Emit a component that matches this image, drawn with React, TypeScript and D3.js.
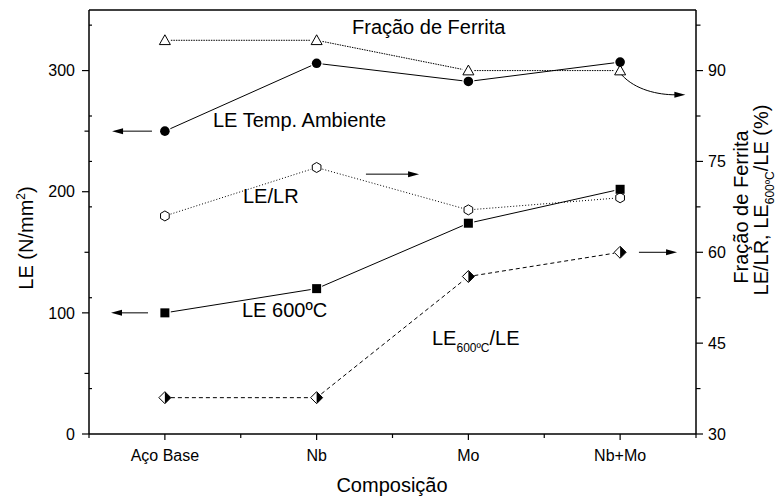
import React from 'react';
import * as d3 from 'd3';

// ---- data ----
const categories = ['Aço Base', 'Nb', 'Mo', 'Nb+Mo'];
const leTempAmbiente = [250, 306, 291, 307]; // N/mm2, left axis
const le600 = [100, 120, 174, 202]; // N/mm2, left axis
const fracaoFerrita = [95, 95, 90, 90]; // %, right axis
const leLr = [66, 74, 67, 69]; // %, right axis
const le600Le = [36, 36, 56, 60]; // %, right axis
const leftTicks = [0, 100, 200, 300];
const leftMinor = [50, 150, 250];
const rightTicks = [30, 45, 60, 75, 90];
const rightMinor = [37.5, 52.5, 67.5, 82.5, 97.5];

const W = 778;
const H = 498;
const L = 89, R = 696, T = 10, B = 434;
const FONT = "'Liberation Sans', Arial, Helvetica, sans-serif";

const x = d3.scaleLinear().domain([0.5, 4.5]).range([L, R]);
const yL = d3.scaleLinear().domain([0, 350]).range([B, T]);
const yR = d3.scaleLinear().domain([30, 100]).range([B, T]);

type P = [number, number];

function Segments({ pts, dash, gap = 6 }: { pts: P[]; dash?: string; gap?: number }) {
  const line = d3.line();
  const segs: string[] = [];
  for (let i = 0; i < pts.length - 1; i++) {
    const [x1, y1] = pts[i];
    const [x2, y2] = pts[i + 1];
    const len = Math.hypot(x2 - x1, y2 - y1);
    const ux = (x2 - x1) / len, uy = (y2 - y1) / len;
    segs.push(
      line([
        [x1 + ux * gap, y1 + uy * gap],
        [x2 - ux * gap, y2 - uy * gap],
      ]) as string
    );
  }
  return (
    <g fill="none" stroke="#000" strokeWidth={1} strokeDasharray={dash}>
      {segs.map((d, i) => (
        <path key={i} d={d} />
      ))}
    </g>
  );
}

function Arrow({ x1, y1, x2, y2 }: { x1: number; y1: number; x2: number; y2: number }) {
  const len = Math.hypot(x2 - x1, y2 - y1);
  const ux = (x2 - x1) / len, uy = (y2 - y1) / len;
  const hl = 11, hw = 3;
  const bx = x2 - ux * hl, by = y2 - uy * hl;
  return (
    <g>
      <line x1={x1} y1={y1} x2={bx + ux} y2={by + uy} stroke="#000" strokeWidth={1} />
      <path
        d={`M${x2},${y2} L${bx - uy * hw},${by + ux * hw} L${bx + uy * hw},${by - ux * hw} Z`}
        fill="#000"
      />
    </g>
  );
}

function CurvedArrow({ p0, c1, c2, p1 }: { p0: P; c1: P; c2: P; p1: P }) {
  const dx = p1[0] - c2[0], dy = p1[1] - c2[1];
  const len = Math.hypot(dx, dy);
  const ux = dx / len, uy = dy / len;
  const hl = 11, hw = 3;
  const bx = p1[0] - ux * hl, by = p1[1] - uy * hl;
  const path = d3.path();
  path.moveTo(p0[0], p0[1]);
  path.bezierCurveTo(c1[0], c1[1], c2[0], c2[1], bx + ux, by + uy);
  return (
    <g>
      <path d={path.toString()} fill="none" stroke="#000" strokeWidth={1} />
      <path
        d={`M${p1[0]},${p1[1]} L${bx - uy * hw},${by + ux * hw} L${bx + uy * hw},${by - ux * hw} Z`}
        fill="#000"
      />
    </g>
  );
}

const Circle = ({ p }: { p: P }) => <circle cx={p[0]} cy={p[1]} r={4.8} fill="#000" />;
const Square = ({ p }: { p: P }) => (
  <rect x={p[0] - 4.5} y={p[1] - 4.5} width={9} height={9} fill="#000" />
);
const Triangle = ({ p }: { p: P }) => (
  <path
    d={`M${p[0]},${p[1] - 5.5} L${p[0] + 5.5},${p[1] + 4.3} L${p[0] - 5.5},${p[1] + 4.3} Z`}
    fill="#fff"
    stroke="#000"
    strokeWidth={1}
  />
);
const Hexagon = ({ p }: { p: P }) => {
  const r = 5;
  const pts = d3.range(6).map((i) => {
    const a = (Math.PI / 3) * i - Math.PI / 2;
    return `${p[0] + r * Math.cos(a)},${p[1] + r * Math.sin(a)}`;
  });
  return <polygon points={pts.join(' ')} fill="#fff" stroke="#000" strokeWidth={1} />;
};
const HalfDiamond = ({ p }: { p: P }) => {
  const s = 6;
  const [cx, cy] = p;
  return (
    <g>
      <path
        d={`M${cx},${cy - s} L${cx + s},${cy} L${cx},${cy + s} L${cx - s},${cy} Z`}
        fill="#fff"
        stroke="#000"
        strokeWidth={1}
      />
      <path d={`M${cx},${cy - s} L${cx + s},${cy} L${cx},${cy + s} Z`} fill="#000" />
    </g>
  );
};

export default function App() {
  const ptsL = (vals: number[]): P[] => vals.map((v, i) => [x(i + 1), yL(v)]);
  const ptsR = (vals: number[]): P[] => vals.map((v, i) => [x(i + 1), yR(v)]);

  const pTemp = ptsL(leTempAmbiente);
  const p600 = ptsL(le600);
  const pFer = ptsR(fracaoFerrita);
  const pLr = ptsR(leLr);
  const p600Le = ptsR(le600Le);

  const xTicksMajor = categories.map((_, i) => i + 1);
  const xTicksMinor = [0.5, 1.5, 2.5, 3.5, 4.5];

  const inwardLeft = rightMinor.concat([75]).filter((v) => v < 100);

  return (
    <svg
      width={W}
      height={H}
      viewBox={`0 0 ${W} ${H}`}
      style={{ position: 'absolute', left: 0, top: 0, background: '#fff' }}
      fontFamily={FONT}
    >
      <rect x={0} y={0} width={W} height={H} fill="#fff" />

      {/* frame */}
      <g stroke="#000" strokeWidth={1.5} fill="none">
        <line x1={L} y1={T} x2={R} y2={T} />
        <line x1={L} y1={T} x2={L} y2={B} />
        <line x1={R} y1={T} x2={R} y2={B} />
        <line x1={L} y1={B} x2={R} y2={B} />
      </g>

      {/* left axis ticks */}
      <g stroke="#000" strokeWidth={1.2}>
        {leftTicks.map((v) => (
          <line key={'lm' + v} x1={L - 7} x2={L} y1={yL(v)} y2={yL(v)} />
        ))}
        {leftMinor.map((v) => (
          <line key={'ln' + v} x1={L - 4.5} x2={L} y1={yL(v)} y2={yL(v)} />
        ))}
        {inwardLeft.map((v) => (
          <line key={'li' + v} x1={L} x2={L + 3} y1={yR(v)} y2={yR(v)} />
        ))}
      </g>
      <g fontSize={16} textAnchor="end" fill="#000">
        {leftTicks.map((v) => (
          <text key={'lt' + v} x={75} y={yL(v)} dy="0.36em">
            {v}
          </text>
        ))}
      </g>

      {/* right axis ticks */}
      <g stroke="#000" strokeWidth={1.2}>
        {rightTicks.map((v) => (
          <line key={'rm' + v} x1={R} x2={R + 7} y1={yR(v)} y2={yR(v)} />
        ))}
        {rightMinor.map((v) => (
          <line key={'rn' + v} x1={R} x2={R + 4.5} y1={yR(v)} y2={yR(v)} />
        ))}
      </g>
      <g fontSize={16} textAnchor="start" fill="#000">
        {rightTicks.map((v) => (
          <text key={'rt' + v} x={708} y={yR(v)} dy="0.36em">
            {v}
          </text>
        ))}
      </g>

      {/* bottom axis ticks */}
      <g stroke="#000" strokeWidth={1.2}>
        {xTicksMajor.map((v) => (
          <line key={'bm' + v} x1={x(v)} x2={x(v)} y1={B} y2={B + 6} />
        ))}
        {xTicksMinor.map((v) => (
          <line key={'bn' + v} x1={x(v)} x2={x(v)} y1={B} y2={B + 4} />
        ))}
      </g>
      <g fontSize={16} textAnchor="middle" fill="#000">
        {categories.map((c, i) => (
          <text key={c} x={x(i + 1)} y={461}>
            {c}
          </text>
        ))}
      </g>

      {/* axis titles */}
      <text x={392} y={492} fontSize={20} textAnchor="middle">
        Composição
      </text>
      <text transform={`translate(33,238) rotate(-90)`} fontSize={20} textAnchor="middle">
        LE (N/mm
        <tspan dy={-8} fontSize={12}>
          2
        </tspan>
        <tspan dy={8}>)</tspan>
      </text>
      <text transform={`translate(748,207) rotate(-90)`} fontSize={20} textAnchor="middle">
        Fração de Ferrita
      </text>
      <text transform={`translate(768,200) rotate(-90)`} fontSize={20} textAnchor="middle">
        LE/LR, LE
        <tspan dy={6} fontSize={12}>
          600ºC
        </tspan>
        <tspan dy={-6}>/LE (%)</tspan>
      </text>

      {/* series lines */}
      <Segments pts={pFer} dash="1.5,1" />
      <Segments pts={pTemp} />
      <Segments pts={pLr} dash="1,2" />
      <Segments pts={p600} />
      <Segments pts={p600Le} dash="4,3" />

      {/* markers */}
      {pFer.map((p, i) => (
        <Triangle key={'t' + i} p={p} />
      ))}
      {pTemp.map((p, i) => (
        <Circle key={'c' + i} p={p} />
      ))}
      {pLr.map((p, i) => (
        <Hexagon key={'h' + i} p={p} />
      ))}
      {p600.map((p, i) => (
        <Square key={'s' + i} p={p} />
      ))}
      {p600Le.map((p, i) => (
        <HalfDiamond key={'d' + i} p={p} />
      ))}

      {/* annotations */}
      <g fontSize={20} fill="#000">
        <text x={352} y={34}>Fração de Ferrita</text>
        <text x={213} y={127}>LE Temp. Ambiente</text>
        <text x={243} y={203}>LE/LR</text>
        <text x={242} y={317}>LE 600ºC</text>
        <text x={432} y={345}>
          LE
          <tspan dy={7} fontSize={12}>
            600ºC
          </tspan>
          <tspan dy={-7}>/LE</tspan>
        </text>
      </g>

      {/* arrows */}
      <Arrow x1={x(0.915)} y1={yL(leTempAmbiente[0])} x2={x(0.652)} y2={yL(leTempAmbiente[0])} />
      <Arrow x1={x(0.889)} y1={yL(le600[0])} x2={x(0.645)} y2={yL(le600[0])} />
      <Arrow x1={x(2.325)} y1={yR(72.9)} x2={x(2.675)} y2={yR(72.9)} />
      <Arrow x1={x(4.124)} y1={yR(le600Le[3])} x2={x(4.375)} y2={yR(le600Le[3])} />
      <CurvedArrow
        p0={[x(4.01), yR(89.3)]}
        c1={[x(4.1), yR(86.8)]}
        c2={[x(4.25), yR(86.0)]}
        p1={[x(4.43), yR(86.0)]}
      />
    </svg>
  );
}
